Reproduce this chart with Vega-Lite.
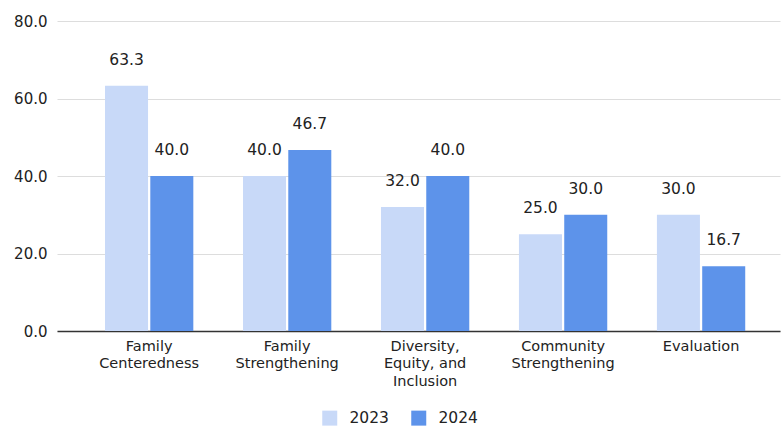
{
  "$schema": "https://vega.github.io/schema/vega-lite/v6.json",
  "width": 723,
  "height": 310,
  "autosize": {"type": "none"},
  "padding": {"left": 57, "top": 21, "right": 3, "bottom": 104},
  "background": "white",
  "config": {
    "view": {"stroke": null},
    "font": "DejaVu Sans"
  },
  "data": {
    "values": [
      {"category": "Family|Centeredness", "year": "2023", "value": 63.3},
      {"category": "Family|Centeredness", "year": "2024", "value": 40.0},
      {"category": "Family|Strengthening", "year": "2023", "value": 40.0},
      {"category": "Family|Strengthening", "year": "2024", "value": 46.7},
      {"category": "Diversity,|Equity, and|Inclusion", "year": "2023", "value": 32.0},
      {"category": "Diversity,|Equity, and|Inclusion", "year": "2024", "value": 40.0},
      {"category": "Community|Strengthening", "year": "2023", "value": 25.0},
      {"category": "Community|Strengthening", "year": "2024", "value": 30.0},
      {"category": "Evaluation", "year": "2023", "value": 30.0},
      {"category": "Evaluation", "year": "2024", "value": 16.7}
    ]
  },
  "encoding": {
    "x": {
      "field": "category",
      "type": "nominal",
      "sort": null,
      "title": null,
      "scale": {"paddingInner": 0.36, "paddingOuter": 0.3, "align": 0.58},
      "axis": {
        "labelExpr": "split(datum.label, '|')",
        "labelAngle": 0,
        "labelFontSize": 14.5,
        "labelColor": "#222222",
        "labelLineHeight": 17.5,
        "labelPadding": 8,
        "ticks": false,
        "domainColor": "#333333",
        "domainWidth": 1.5,
        "labelLimit": 200
      }
    },
    "xOffset": {"field": "year", "type": "nominal", "scale": {"paddingInner": 0.05}},
    "y": {
      "field": "value",
      "type": "quantitative",
      "title": null,
      "scale": {"domain": [0, 80]},
      "axis": {
        "values": [0, 20, 40, 60, 80],
        "format": ".1f",
        "domain": false,
        "ticks": false,
        "labelFontSize": 15,
        "labelColor": "#222222",
        "labelPadding": 10,
        "gridColor": "#dddddd"
      }
    }
  },
  "layer": [
    {
      "mark": {"type": "bar"},
      "encoding": {
        "color": {
          "field": "year",
          "type": "nominal",
          "title": null,
          "scale": {"domain": ["2023", "2024"], "range": ["#c8d9f8", "#5d93ea"]},
          "legend": {
            "orient": "none",
            "direction": "horizontal",
            "legendX": 265,
            "legendY": 389,
            "symbolType": "square",
            "symbolSize": 225,
            "symbolStrokeWidth": 0,
            "labelFontSize": 15.5,
            "labelColor": "#222222",
            "columnPadding": 22,
            "labelOffset": 12
          }
        }
      }
    },
    {
      "mark": {"type": "text", "baseline": "middle", "dy": -26, "fontSize": 15.5, "color": "#222222"},
      "encoding": {
        "text": {"field": "value", "type": "quantitative", "format": ".1f"}
      }
    }
  ]
}
